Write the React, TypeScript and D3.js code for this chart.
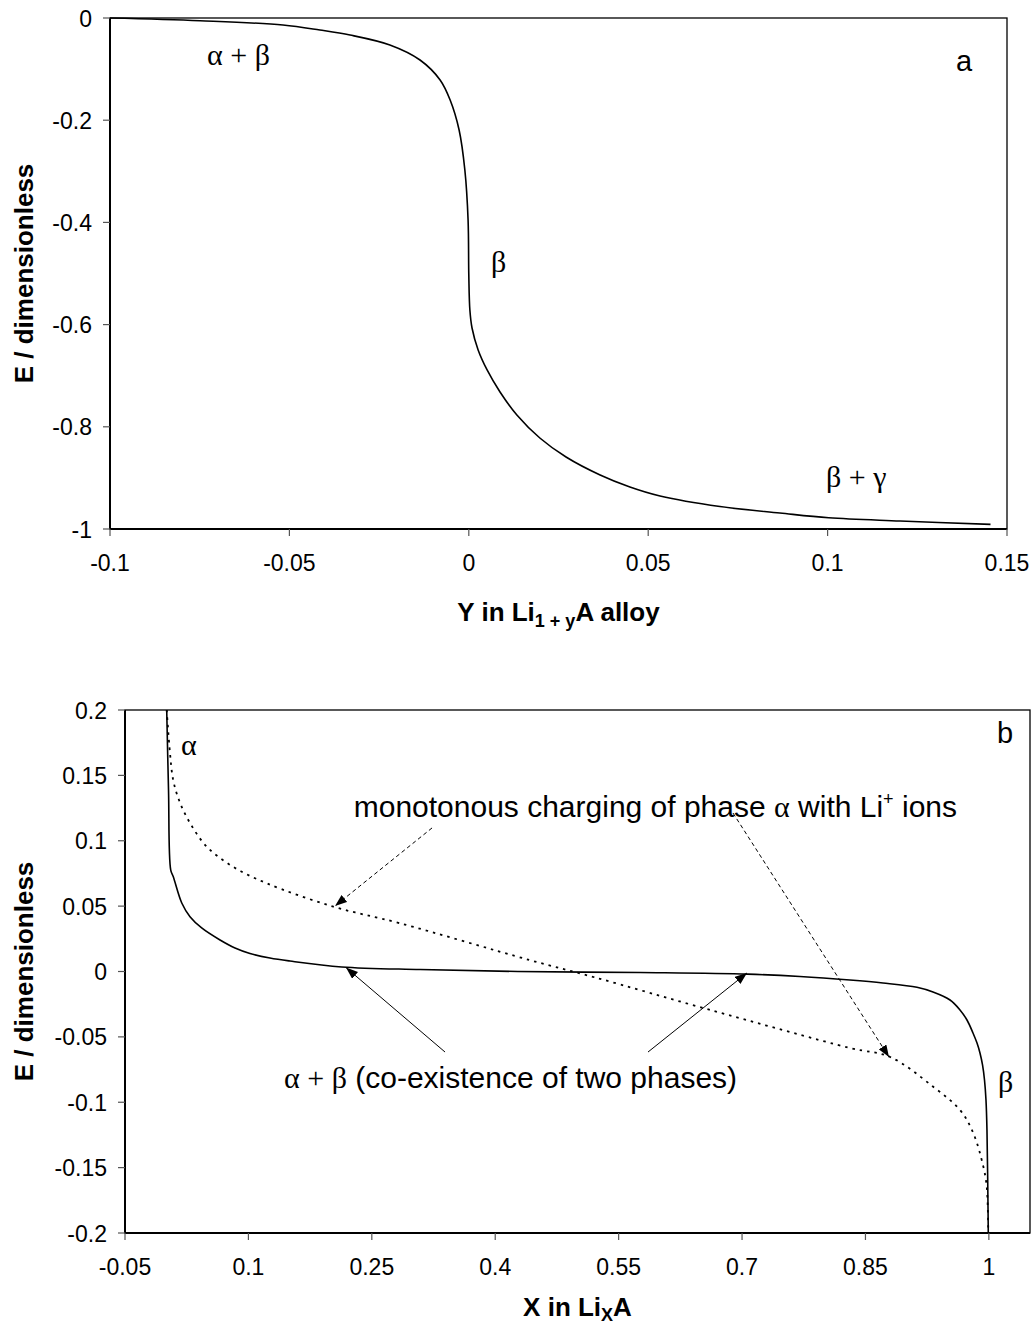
import React from 'react';
import * as d3 from 'd3';

// ---------- Panel a data: E vs Y in Li(1+y)A ----------
const panelAY = [-0.1, -0.0749, -0.0518, -0.0415, -0.0331, -0.022, -0.0136, -0.008, -0.0052, -0.0027, -0.0011, -0.0002, 0.0, 0.0003, 0.0009, 0.0026, 0.0051, 0.0087, 0.0134, 0.0198, 0.0271, 0.0366, 0.0449, 0.0533, 0.07, 0.0867, 0.1003, 0.1202, 0.1454];
const panelAE = [0, -0.0053, -0.0137, -0.0235, -0.0333, -0.0528, -0.0822, -0.1213, -0.1605, -0.2192, -0.2975, -0.3953, -0.503, -0.5714, -0.6067, -0.6497, -0.6888, -0.7319, -0.7769, -0.8219, -0.8591, -0.8943, -0.9178, -0.9354, -0.956, -0.9687, -0.978, -0.9843, -0.991];
const panelAXTicks = [-0.1, -0.05, 0, 0.05, 0.1, 0.15];
const panelAYTicks = [0, -0.2, -0.4, -0.6, -0.8, -1];

// ---------- Panel b data: E vs X in LiXA ----------
const solidX = [0.0007, 0.0029, 0.0056, 0.0087, 0.019, 0.029, 0.0432, 0.0655, 0.0837, 0.1019, 0.1262, 0.1506, 0.2135, 0.3086, 0.4275, 0.576, 0.7066, 0.7704, 0.8311, 0.8713, 0.9126, 0.9321, 0.9528, 0.9649, 0.9734, 0.9807, 0.9856, 0.9892, 0.9923, 0.9947, 0.9965, 0.9977, 0.9993];
const solidE = [0.2, 0.1388, 0.0776, 0.0725, 0.0524, 0.0419, 0.0333, 0.0241, 0.018, 0.0138, 0.0103, 0.008, 0.0035, 0.0015, 0.0, -0.0008, -0.002, -0.0038, -0.0065, -0.0088, -0.0121, -0.0157, -0.0218, -0.0294, -0.0371, -0.047, -0.0547, -0.0623, -0.0715, -0.083, -0.0983, -0.1212, -0.2];
const dottedX = [0.0007, 0.0047, 0.0087, 0.0169, 0.029, 0.0493, 0.0816, 0.1222, 0.2032, 0.2843, 0.4415, 0.5205, 0.6601, 0.8312, 0.88, 0.932, 0.965, 0.981, 0.9932, 0.9974, 0.9993];
const dottedE = [0.2, 0.167, 0.146, 0.129, 0.1136, 0.0955, 0.08, 0.0675, 0.0496, 0.0369, 0.0088, -0.0044, -0.0292, -0.0585, -0.0654, -0.088, -0.106, -0.1235, -0.149, -0.1646, -0.2];
const panelBXTicks = [-0.05, 0.1, 0.25, 0.4, 0.55, 0.7, 0.85, 1];
const panelBYTicks = [0.2, 0.15, 0.1, 0.05, 0, -0.05, -0.1, -0.15, -0.2];

// annotation arrows in data coordinates: [x1, e1, x2(tip), e2(tip)]
const dashedArrows = [
  [0.3232, 0.1098, 0.2053, 0.0501],
  [0.689, 0.1212, 0.8786, -0.0654],
];
const solidArrows = [
  [0.339, -0.0616, 0.2186, 0.003],
  [0.5857, -0.0616, 0.706, -0.0011],
];

const SANS = '"Liberation Sans", Arial, Helvetica, sans-serif';
const SERIF = '"Liberation Serif", "Times New Roman", serif';
const TICK_FS = 23;
const TITLE_FS = 26;
const ANN_FS = 30;

function Axes({ x, y, xTicks, yTicks, left, right, top, bottom }) {
  return (
    <g>
      <rect x={left} y={top} width={right - left} height={bottom - top} fill="none" stroke="#000" strokeWidth={1.3} />
      <line x1={left} x2={left} y1={top} y2={bottom + 0.5} stroke="#000" strokeWidth={2} />
      <line x1={left} x2={right} y1={bottom} y2={bottom} stroke="#000" strokeWidth={2} />
      {xTicks.map((t) => (
        <g key={'x' + t}>
          <line x1={x(t)} x2={x(t)} y1={bottom} y2={bottom + 7} stroke="#555" strokeWidth={1.2} />
          <text x={x(t)} y={bottom + 42} textAnchor="middle" fontFamily={SANS} fontSize={TICK_FS} fill="#000">{String(t)}</text>
        </g>
      ))}
      {yTicks.map((t) => (
        <g key={'y' + t}>
          <line x1={left - 7} x2={left} y1={y(t)} y2={y(t)} stroke="#555" strokeWidth={1.2} />
          <text x={left - 18} y={y(t) + 8.5} textAnchor="end" fontFamily={SANS} fontSize={TICK_FS} fill="#000">{String(t)}</text>
        </g>
      ))}
    </g>
  );
}

export default function App() {
  // Panel a
  const aL = 110, aR = 1007, aT = 18, aB = 529;
  const ax = d3.scaleLinear().domain([-0.1, 0.15]).range([aL, aR]);
  const ay = d3.scaleLinear().domain([-1, 0]).range([aB, aT]);
  const aLine = d3.line<number>().x((d, i) => ax(panelAY[i])).y((d, i) => ay(panelAE[i])).curve(d3.curveCatmullRom.alpha(0.5));

  // Panel b
  const bL = 125, bR = 1030, bT = 710, bB = 1233;
  const bx = d3.scaleLinear().domain([-0.05, 1.05]).range([bL, bR]);
  const by = d3.scaleLinear().domain([-0.2, 0.2]).range([bB, bT]);
  const sLine = d3.line<number>().x((d, i) => bx(solidX[i])).y((d, i) => by(solidE[i])).curve(d3.curveCatmullRom.alpha(0.5));
  const dLine = d3.line<number>().x((d, i) => bx(dottedX[i])).y((d, i) => by(dottedE[i])).curve(d3.curveCatmullRom.alpha(0.5));

  const aMid = (aL + aR) / 2;
  const bMid = (bL + bR) / 2;

  return (
    <div style={{ position: 'absolute', left: 0, top: 0 }}>
      <svg width={1035} height={1326} xmlns="http://www.w3.org/2000/svg" style={{ display: 'block', background: '#fff' }}>
        <defs>
          <marker id="ah" viewBox="0 0 12 9" refX={12} refY={4.5} markerWidth={12} markerHeight={9} markerUnits="userSpaceOnUse" orient="auto">
            <path d="M0,0 L12,4.5 L0,9 Z" fill="#000" stroke="none" />
          </marker>
        </defs>

        {/* ---------------- Panel a ---------------- */}
        <Axes x={ax} y={ay} xTicks={panelAXTicks} yTicks={panelAYTicks} left={aL} right={aR} top={aT} bottom={aB} />
        <path d={aLine(panelAY) || ''} fill="none" stroke="#000" strokeWidth={1.6} />
        <text x={aMid} y={621} textAnchor="middle" fontFamily={SANS} fontSize={TITLE_FS} fontWeight="bold">
          <tspan>Y in Li</tspan>
          <tspan fontSize={18} dy={6}>1 + y</tspan>
          <tspan dy={-6}>A alloy</tspan>
        </text>
        <text transform={`translate(33,${(aT + aB) / 2}) rotate(-90)`} textAnchor="middle" fontFamily={SANS} fontSize={TITLE_FS} fontWeight="bold">E / dimensionless</text>
        <text x={207} y={65} fontFamily={SERIF} fontSize={ANN_FS}>α + β</text>
        <text x={491} y={272} fontFamily={SERIF} fontSize={ANN_FS}>β</text>
        <text x={826} y={487} fontFamily={SERIF} fontSize={ANN_FS}>β + γ</text>
        <text x={956} y={71} fontFamily={SANS} fontSize={ANN_FS - 1}>a</text>

        {/* ---------------- Panel b ---------------- */}
        <Axes x={bx} y={by} xTicks={panelBXTicks} yTicks={panelBYTicks} left={bL} right={bR} top={bT} bottom={bB} />
        <path d={dLine(dottedX) || ''} fill="none" stroke="#000" strokeWidth={1.8} strokeDasharray="2.5,5" />
        <path d={sLine(solidX) || ''} fill="none" stroke="#000" strokeWidth={1.6} />
        {dashedArrows.map((a, i) => (
          <line key={'da' + i} x1={bx(a[0])} y1={by(a[1])} x2={bx(a[2])} y2={by(a[3])} stroke="#000" strokeWidth={1} strokeDasharray="4,3" markerEnd="url(#ah)" />
        ))}
        {solidArrows.map((a, i) => (
          <line key={'sa' + i} x1={bx(a[0])} y1={by(a[1])} x2={bx(a[2])} y2={by(a[3])} stroke="#000" strokeWidth={1} markerEnd="url(#ah)" />
        ))}
        <text x={957} y={817} textAnchor="end" fontFamily={SANS} fontSize={ANN_FS}>
          <tspan>monotonous charging of phase </tspan>
          <tspan fontFamily={SERIF}>α</tspan>
          <tspan> with Li</tspan>
          <tspan fontSize={18} dy={-12}>+</tspan>
          <tspan dy={12}> ions</tspan>
        </text>
        <text x={284} y={1088} fontFamily={SANS} fontSize={ANN_FS}>
          <tspan fontFamily={SERIF}>α + β</tspan>
          <tspan> (co-existence of two phases)</tspan>
        </text>
        <text x={181} y={755} fontFamily={SERIF} fontSize={ANN_FS}>α</text>
        <text x={998} y={1092} fontFamily={SERIF} fontSize={ANN_FS}>β</text>
        <text x={997} y={743} fontFamily={SANS} fontSize={ANN_FS - 1}>b</text>
        <text x={bMid} y={1316} textAnchor="middle" fontFamily={SANS} fontSize={TITLE_FS} fontWeight="bold">
          <tspan>X in Li</tspan>
          <tspan fontSize={18} dy={5}>X</tspan>
          <tspan dy={-5}>A</tspan>
        </text>
        <text transform={`translate(33,${(bT + bB) / 2}) rotate(-90)`} textAnchor="middle" fontFamily={SANS} fontSize={TITLE_FS} fontWeight="bold">E / dimensionless</text>
      </svg>
    </div>
  );
}
